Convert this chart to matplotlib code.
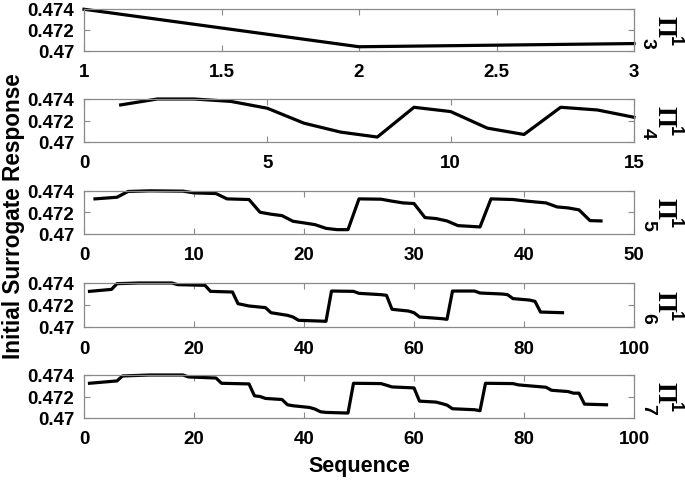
"""Initial surrogate response per sequence, one panel per Pi^1_k design."""
import matplotlib

matplotlib.use("Agg")
import matplotlib.pyplot as plt

# panel data: (sequence index, response) vertices
SEQ_3 = [1, 2, 3]
RESP_3 = [0.47393, 0.47040, 0.47070]

SEQ_4 = list(range(1, 16))
RESP_4 = [0.47345, 0.47400, 0.47400, 0.47378, 0.47314, 0.47175, 0.47092, 0.47046,
          0.47323, 0.47283, 0.47129, 0.47070, 0.47323, 0.47298, 0.47230]

SEQ_5 = [1, 3, 4, 6, 9, 10, 12, 13, 15, 16, 17, 18, 19, 20, 21, 22, 23, 24, 25, 27,
         28, 29, 30, 31, 32, 33, 34, 36, 37, 39, 40, 41, 42, 43, 44, 45, 46, 47]
RESP_5 = [0.47323, 0.47338, 0.47391, 0.47397, 0.47394, 0.47378, 0.47372, 0.47323,
          0.47317, 0.47200, 0.47182, 0.47169, 0.47117, 0.47102, 0.47086, 0.47052,
          0.47040, 0.47040, 0.47323, 0.47320, 0.47302, 0.47286, 0.47280, 0.47151,
          0.47142, 0.47120, 0.47077, 0.47065, 0.47323, 0.47317, 0.47305, 0.47295,
          0.47286, 0.47249, 0.47240, 0.47222, 0.47123, 0.47120]

SEQ_6 = [1, 5, 6, 10, 16, 17, 22, 23, 27, 28, 30, 33, 34, 37, 38, 39, 44, 45, 49, 50,
         54, 55, 56, 59, 60, 61, 65, 66, 67, 71, 72, 76, 77, 78, 81, 82, 83, 87]
RESP_6 = [0.47324, 0.47342, 0.47394, 0.47400, 0.47400, 0.47385, 0.47379, 0.47324,
          0.47318, 0.47212, 0.47191, 0.47176, 0.47130, 0.47106, 0.47091, 0.47061,
          0.47052, 0.47327, 0.47324, 0.47306, 0.47294, 0.47288, 0.47161, 0.47145,
          0.47130, 0.47091, 0.47076, 0.47070, 0.47327, 0.47327, 0.47309, 0.47300,
          0.47294, 0.47258, 0.47245, 0.47233, 0.47136, 0.47130]

SEQ_7 = [1, 6, 7, 12, 18, 19, 24, 25, 30, 31, 32, 33, 36, 37, 38, 41, 42, 43, 44, 48,
         49, 54, 55, 56, 60, 61, 64, 65, 66, 67, 71, 72, 73, 78, 79, 84, 85, 88, 89,
         90, 91, 95]
RESP_7 = [0.47323, 0.47345, 0.47391, 0.47400, 0.47400, 0.47382, 0.47372, 0.47323,
          0.47317, 0.47206, 0.47200, 0.47182, 0.47172, 0.47123, 0.47114, 0.47098,
          0.47083, 0.47058, 0.47052, 0.47046, 0.47323, 0.47320, 0.47305, 0.47289,
          0.47280, 0.47157, 0.47148, 0.47135, 0.47120, 0.47086, 0.47077, 0.47068,
          0.47323, 0.47320, 0.47308, 0.47286, 0.47258, 0.47246, 0.47231, 0.47231,
          0.47129, 0.47123]

PANELS = ["3", "4", "5", "6", "7"]
XLIMS = [(1, 3), (0, 15), (0, 50), (0, 100), (0, 100)]
XTICKS = [[1, 1.5, 2, 2.5, 3], [0, 5, 10, 15], [0, 10, 20, 30, 40, 50],
          [0, 20, 40, 60, 80, 100], [0, 20, 40, 60, 80, 100]]
XTICKLABELS = [["1", "1.5", "2", "2.5", "3"], ["0", "5", "10", "15"],
               ["0", "10", "20", "30", "40", "50"],
               ["0", "20", "40", "60", "80", "100"],
               ["0", "20", "40", "60", "80", "100"]]
YTICKS = [0.47, 0.472, 0.474]
YTICKLABELS = ["0.47", "0.472", "0.474"]

W, H = 685, 485
LEFT, RIGHT = 84, 634
# (top, bottom) pixel rows of each panel
ROWS = [(9.5, 52), (100, 143), (191.5, 235), (284, 328), (376, 419)]
BOX = "#8a8a8a"


def main():
    plt.rcParams["font.family"] = ["Liberation Sans", "DejaVu Sans"]
    plt.rcParams["font.weight"] = "bold"

    series = [(SEQ_3, RESP_3), (SEQ_4, RESP_4), (SEQ_5, RESP_5),
              (SEQ_6, RESP_6), (SEQ_7, RESP_7)]

    fig = plt.figure(figsize=(W / 100, H / 100), dpi=100)
    for i, ((xs, ys), (top, bot)) in enumerate(zip(series, ROWS)):
        ax = fig.add_axes([LEFT / W, 1 - bot / H, (RIGHT - LEFT) / W, (bot - top) / H])
        ax.plot(xs, ys, color="black", lw=2.3, solid_joinstyle="round", clip_on=False)
        ax.set_xlim(*XLIMS[i])
        ax.set_ylim(0.47, 0.474)
        ax.set_xticks(XTICKS[i])
        ax.set_xticklabels(XTICKLABELS[i])
        ax.set_yticks(YTICKS)
        ax.set_yticklabels(YTICKLABELS)
        ax.tick_params(direction="in", length=4, width=0.8, color=BOX,
                       top=True, right=True, labelsize=13.5)
        ax.tick_params(axis="x", pad=9)
        ax.tick_params(axis="y", pad=7)
        for lbl in ax.get_xticklabels() + ax.get_yticklabels():
            lbl.set_fontweight("bold")
        for sp in ax.spines.values():
            sp.set_color(BOX)
            sp.set_linewidth(0.9)

        # right-hand tag Pi^1_k, read top-to-bottom (rotated -90)
        mid = (top + bot) / 2
        kw = dict(rotation=-90, rotation_mode="anchor", ha="left", va="baseline")
        fig.text(657 / W, 1 - (mid - 15) / H, "\u03a0", family="Liberation Serif",
                 fontweight="bold", fontsize=19.5, **kw)
        fig.text(643 / W, 1 - (mid + 7) / H, PANELS[i], fontsize=14,
                 fontweight="bold", **kw)
        fig.text(670 / W, 1 - (mid + 5) / H, "1", fontsize=13,
                 fontweight="bold", **kw)

    fig.text(0.019, 1 - 216 / H, "Initial Surrogate Response", rotation=90,
             ha="center", va="center", fontsize=16.3, fontweight="bold")
    fig.text((LEFT + RIGHT) / 2 / W, 1 - 467 / H, "Sequence",
             ha="center", va="center", fontsize=15.5, fontweight="bold")
    fig.savefig("out.png", dpi=100)


if __name__ == "__main__":
    main()
